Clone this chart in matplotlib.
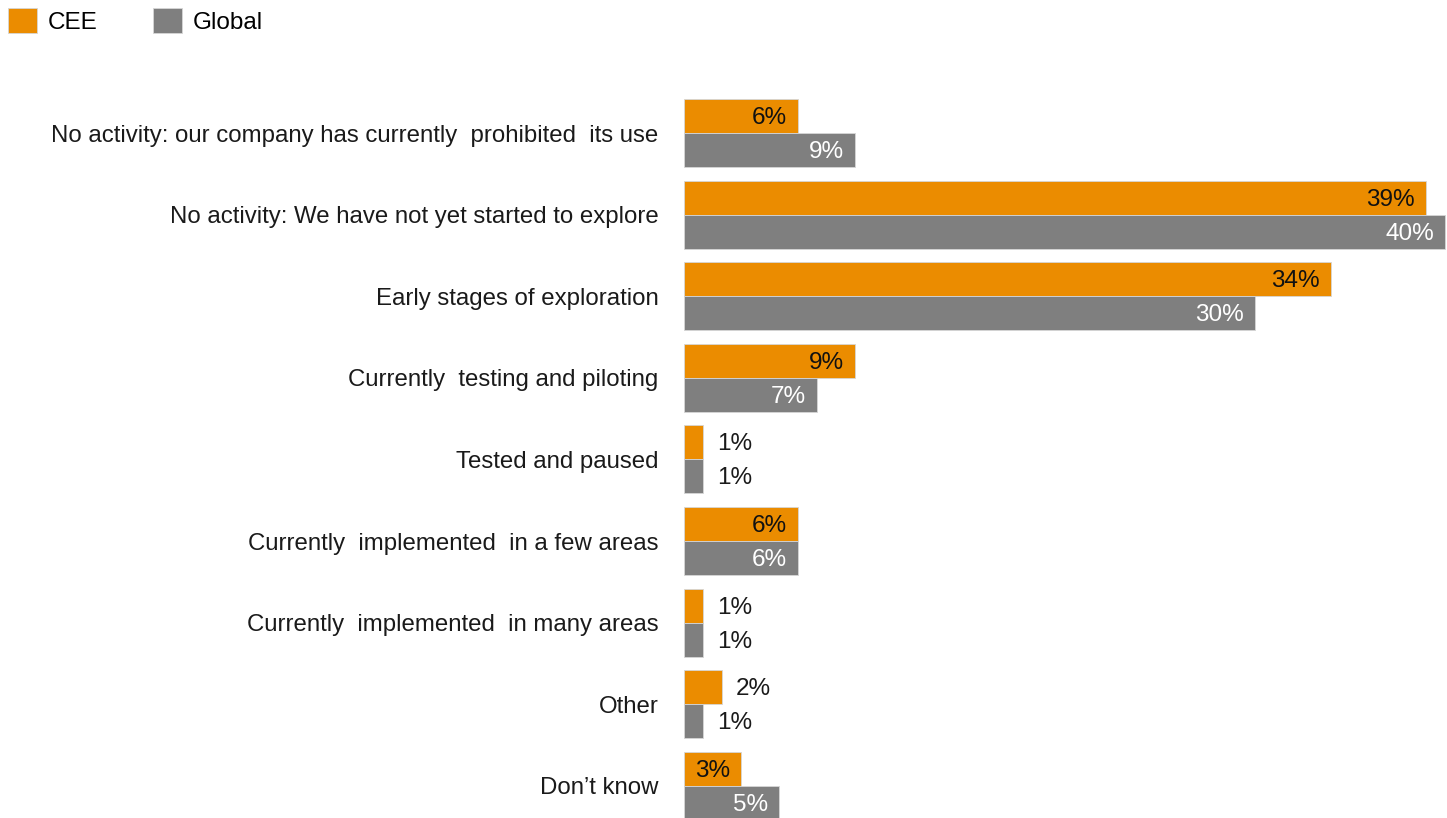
import matplotlib.pyplot as plt
from matplotlib.patches import Patch
import numpy as np

plt.rcParams['font.family'] = ['Liberation Sans', 'DejaVu Sans']

categories = [
    "No activity: our company has currently  prohibited  its use",
    "No activity: We have not yet started to explore",
    "Early stages of exploration",
    "Currently  testing and piloting",
    "Tested and paused",
    "Currently  implemented  in a few areas",
    "Currently  implemented  in many areas",
    "Other",
    "Don\u2019t know",
]
cee = [6, 39, 34, 9, 1, 6, 1, 2, 3]
global_ = [9, 40, 30, 7, 1, 6, 1, 1, 5]

ORANGE = '#EB8C00'
GREY = '#7F7F7F'

W, H = 1447, 818
fig = plt.figure(figsize=(W / 100, H / 100), dpi=100)
ax = fig.add_axes([684 / W, 0, 1 - 684 / W, 1])

y = np.arange(len(categories))
bh = 34 / 81.6

b1 = ax.barh(y - bh / 2, cee, height=bh, color=ORANGE, edgecolor='#d6d6d6', linewidth=0.6)
b2 = ax.barh(y + bh / 2, global_, height=bh, color=GREY, edgecolor='#d6d6d6', linewidth=0.6)

for bars, vals, inside_col in [(b1, cee, '#111111'), (b2, global_, 'white')]:
    for rect, v in zip(bars, vals):
        yc = rect.get_y() + rect.get_height() / 2
        if v >= 3:
            ax.annotate(f"{v}%", (v, yc), xytext=(-8, -1.5), textcoords='offset points',
                        ha='right', va='center', fontsize=17.5, color=inside_col)
        else:
            ax.annotate(f"{v}%", (v, yc), xytext=(10, -1.5), textcoords='offset points',
                        ha='left', va='center', fontsize=17.5, color='#1a1a1a')

ax.set_xlim(0, 40 * 763 / 761)
ax.set_ylim((818 - 133) / 81.6, -133 / 81.6)
ax.set_yticks(y)
ax.set_yticklabels(categories, fontsize=17.3, color='#1a1a1a')
ax.tick_params(axis='y', length=0, pad=18.5)
ax.set_xticks([])
for s in ax.spines.values():
    s.set_visible(False)

handles = [Patch(facecolor=ORANGE, edgecolor='#d6d6d6', linewidth=0.6, label='CEE'),
           Patch(facecolor=GREY, edgecolor='#d6d6d6', linewidth=0.6, label='Global')]
fig.legend(handles=handles, loc='upper left', bbox_to_anchor=(8 / W, 1 - 8 / H),
           ncol=2, frameon=False, fontsize=17.5, handlelength=1.2, handleheight=1.2,
           handletextpad=0.42, columnspacing=2.3, borderpad=0, borderaxespad=0)

fig.savefig('out.png', dpi=100)
